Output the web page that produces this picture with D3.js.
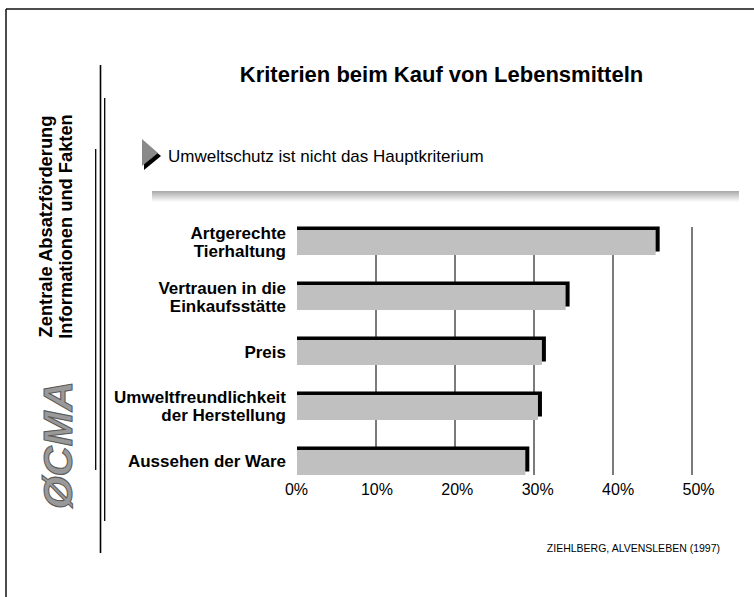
<!DOCTYPE html>
<html>
<head>
<meta charset="utf-8">
<script src="https://cdn.jsdelivr.net/npm/d3@7"></script>
<style>
  html, body { margin: 0; padding: 0; background: #fff; }
  svg { display: block; font-family: "Liberation Sans", Arial, Helvetica, sans-serif; }
</style>
</head>
<body>
<svg id="chart" width="754" height="597"></svg>
<script>
// ---- data ----
const categories = [
  ["Artgerechte", "Tierhaltung"],
  ["Vertrauen in die", "Einkaufsstätte"],
  ["Preis"],
  ["Umweltfreundlichkeit", "der Herstellung"],
  ["Aussehen der Ware"]
];
const values = [45.4, 34.0, 31.0, 30.5, 28.9];
const tickValues = [0, 10, 20, 30, 40, 50];
const tickLabels = ["0%", "10%", "20%", "30%", "40%", "50%"];
const title = "Kriterien beim Kauf von Lebensmitteln";
const subtitle = "Umweltschutz ist nicht das Hauptkriterium";
const sideLines = ["Zentrale Absatzförderung", "Informationen und Fakten"];
const source = "ZIEHLBERG, ALVENSLEBEN (1997)";

const svg = d3.select("#chart");

// ---- frame ----
svg.append("line").attr("x1", 6).attr("y1", 9).attr("x2", 754).attr("y2", 9)
  .attr("stroke", "#111").attr("stroke-width", 1.5);
svg.append("line").attr("x1", 6).attr("y1", 9).attr("x2", 6).attr("y2", 597)
  .attr("stroke", "#111").attr("stroke-width", 1.5);

// ---- left sidebar lines ----
svg.append("line").attr("x1", 100.5).attr("y1", 65).attr("x2", 100.5).attr("y2", 553)
  .attr("stroke", "#000").attr("stroke-width", 1.6);
svg.append("line").attr("x1", 104.7).attr("y1", 98).attr("x2", 104.7).attr("y2", 521)
  .attr("stroke", "#000").attr("stroke-width", 1.3);
svg.append("line").attr("x1", 95.7).attr("y1", 149).attr("x2", 95.7).attr("y2", 470)
  .attr("stroke", "#000").attr("stroke-width", 1.3);

// ---- sidebar rotated text ----
const sideX = [52, 71.5];
sideLines.forEach((t, i) => {
  svg.append("text")
    .attr("transform", `translate(${sideX[i]},226.5) rotate(-90)`)
    .attr("text-anchor", "middle")
    .attr("font-weight", "bold")
    .attr("font-size", 18.3)
    .attr("fill", "#000")
    .text(t);
});

// ---- CMA logo (rotated) ----
svg.append("text")
  .attr("transform", "translate(72,445) rotate(-90)")
  .attr("text-anchor", "middle")
  .attr("font-weight", "bold")
  .attr("font-style", "italic")
  .attr("font-size", 40)
  .attr("textLength", 128)
  .attr("lengthAdjust", "spacingAndGlyphs")
  .attr("fill", "#999")
  .attr("stroke", "#5a5a5a")
  .attr("stroke-width", 1)
  .text("ØCMA");

// ---- title ----
svg.append("text")
  .attr("x", 441.5).attr("y", 82)
  .attr("text-anchor", "middle")
  .attr("font-weight", "bold")
  .attr("font-size", 22)
  .attr("fill", "#000")
  .text(title);

// ---- subtitle with triangle ----
svg.append("path")
  .attr("d", "M144,142 L161,156 L144,170 Z")
  .attr("fill", "#000");
svg.append("path")
  .attr("d", "M142,139 L158,153 L142,166 Z")
  .attr("fill", "#8a8a8a");
svg.append("text")
  .attr("x", 168).attr("y", 162)
  .attr("font-size", 17)
  .attr("fill", "#000")
  .text(subtitle);

// ---- gradient separator bar ----
const defs = svg.append("defs");
const grad = defs.append("linearGradient").attr("id", "sepGrad")
  .attr("x1", 0).attr("y1", 0).attr("x2", 0).attr("y2", 1);
grad.append("stop").attr("offset", "0%").attr("stop-color", "#a8a8a8");
grad.append("stop").attr("offset", "100%").attr("stop-color", "#ffffff");
svg.append("rect").attr("x", 152).attr("y", 191).attr("width", 587).attr("height", 11)
  .attr("fill", "url(#sepGrad)");

// ---- scales ----
const x = d3.scaleLinear().domain([0, 50]).range([297, 692]);
const xLabel = d3.scaleLinear().domain([0, 50]).range([296, 698]);
const y = d3.scaleBand().domain(d3.range(categories.length))
  .range([230, 475]).paddingInner(0.545).paddingOuter(0);

// ---- gridlines ----
const gridTop = 227, gridBottom = 475;
svg.append("g").selectAll("line")
  .data(tickValues.filter(v => v > 0))
  .join("line")
  .attr("x1", d => x(d)).attr("x2", d => x(d))
  .attr("y1", gridTop).attr("y2", gridBottom)
  .attr("stroke", "#222").attr("stroke-width", 1.2);

// ---- bars ----
const bars = svg.append("g");
bars.selectAll("rect.shadow")
  .data(values)
  .join("rect")
  .attr("class", "shadow")
  .attr("x", x(0))
  .attr("y", (d, i) => y(i) - 3.5)
  .attr("width", d => x(d) - x(0) + 4)
  .attr("height", y.bandwidth())
  .attr("fill", "#000");
bars.selectAll("rect.bar")
  .data(values)
  .join("rect")
  .attr("class", "bar")
  .attr("x", x(0))
  .attr("y", (d, i) => y(i))
  .attr("width", d => x(d) - x(0))
  .attr("height", y.bandwidth())
  .attr("fill", "#c0c0c0");

// ---- category labels ----
const lineH = 18;
const labels = svg.append("g");
categories.forEach((lines, i) => {
  const cy = y(i) + y.bandwidth() / 2 - 1;
  const n = lines.length;
  const t = labels.append("text")
    .attr("text-anchor", "end")
    .attr("font-weight", "bold")
    .attr("font-size", 17)
    .attr("fill", "#000");
  lines.forEach((ln, j) => {
    t.append("tspan")
      .attr("x", 286)
      .attr("y", cy + (j - (n - 1) / 2) * lineH + 6)
      .text(ln);
  });
});

// ---- x axis (labels only) ----
const xAxis = d3.axisBottom(xLabel)
  .tickValues(tickValues)
  .tickFormat((d, i) => tickLabels[i])
  .tickSize(0)
  .tickPadding(0);
const ax = svg.append("g").attr("transform", "translate(0,484)").call(xAxis);
ax.select(".domain").remove();
ax.selectAll("text")
  .attr("font-size", 16)
  .attr("font-family", "Liberation Sans, Arial, sans-serif")
  .attr("fill", "#000");

// ---- source ----
svg.append("text")
  .attr("x", 720).attr("y", 552)
  .attr("text-anchor", "end")
  .attr("font-size", 10.5)
  .attr("fill", "#000")
  .text(source);
</script>
</body>
</html>
